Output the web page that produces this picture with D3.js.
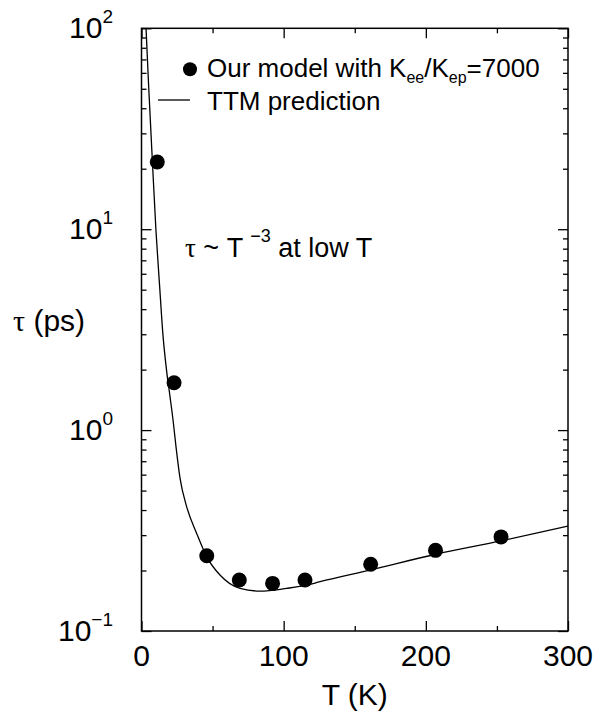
<!DOCTYPE html>
<html>
<head>
<meta charset="utf-8">
<script src="https://cdn.jsdelivr.net/npm/d3@7"></script>
<style>
  body { margin: 0; background: #fff; }
  text { font-family: "Liberation Sans", Arial, Helvetica, sans-serif; fill: #000; }
</style>
</head>
<body>
<div class="chart"></div>
<script>
// tau vs T, model points and TTM curve
var model_T = [11.1, 22.9, 45.9, 68.8, 92.2, 115, 161.2, 206.8, 252.9];
var model_tau = [21.6, 1.72, 0.237, 0.1795, 0.1726, 0.1795, 0.215, 0.252, 0.294];

var ttm_T = [3.2, 4.9, 7.7, 10.2, 12.7, 15.1, 17.6, 20.1, 22.2, 24.3, 27.1, 31.8, 38.8, 45.9, 55.2, 69.3, 83.4, 102.1, 116.2, 125.6, 160.7, 206.9, 252.9, 300];
var ttm_tau = [100, 53.9, 21.5, 9.77, 5.27, 2.97, 1.99, 1.46, 1.12, 0.823, 0.577, 0.415, 0.306, 0.234, 0.190, 0.163, 0.158, 0.163, 0.169, 0.176, 0.201, 0.241, 0.281, 0.333];

var x_ticks = [0, 100, 200, 300];
var x_minor = [50, 150, 250];
var y_ticks = [0.1, 1, 10, 100];
var y_exp = ["\u22121", "0", "1", "2"];

var legend_labels = ["Our model with K", "TTM prediction"];

var pl = 141.5, pr = 568, pt = 28.3, pb = 631;

var svg = d3.select(".chart")
            .append("svg")
            .attr("width", 605)
            .attr("height", 712);

var x = d3.scaleLinear().domain([0, 300]).range([pl, pr]);
var y = d3.scaleLog().domain([0.1, 100]).range([pb, pt]);

var y_minor = [];
for (var d = 0.1; d < 100; d *= 10) {
    for (var k = 2; k < 10; k++) y_minor.push(+(d * k).toPrecision(2));
}

// clip for the curve
svg.append("clipPath").attr("id", "plot")
    .append("rect")
    .attr("x", pl).attr("y", pt)
    .attr("width", pr - pl).attr("height", pb - pt);

// axes, ticks pointing inward
function tickAxis(axis, pos, size, vals) {
    var g = svg.append("g")
        .attr("transform", pos)
        .call(axis.tickValues(vals).tickSize(size).tickFormat(""));
    g.select(".domain").remove();
    g.selectAll("line").attr("stroke", "#000").attr("stroke-width", 1.3);
}
tickAxis(d3.axisBottom(x), "translate(0," + pb + ")", -10, x_ticks);
tickAxis(d3.axisBottom(x), "translate(0," + pb + ")", -5, x_minor);
tickAxis(d3.axisTop(x), "translate(0," + pt + ")", -10, x_ticks);
tickAxis(d3.axisTop(x), "translate(0," + pt + ")", -5, x_minor);
tickAxis(d3.axisLeft(y), "translate(" + pl + ",0)", -10, y_ticks);
tickAxis(d3.axisLeft(y), "translate(" + pl + ",0)", -5, y_minor);
tickAxis(d3.axisRight(y), "translate(" + pr + ",0)", -10, y_ticks);
tickAxis(d3.axisRight(y), "translate(" + pr + ",0)", -5, y_minor);

svg.append("rect")
    .attr("x", pl).attr("y", pt)
    .attr("width", pr - pl).attr("height", pb - pt)
    .attr("fill", "none")
    .attr("stroke", "#000")
    .attr("stroke-width", 1.5);

// x tick labels
svg.selectAll(".xl").data(x_ticks).enter()
    .append("text")
    .attr("x", function(d) { return x(d); })
    .attr("y", pb + 35)
    .attr("text-anchor", "middle")
    .style("font-size", "30px")
    .text(function(d) { return d; });

// y tick labels 10^n
var yl = svg.selectAll(".yl").data(y_ticks).enter()
    .append("text")
    .attr("x", 113)
    .attr("y", function(d) { return y(d) + 10; })
    .attr("text-anchor", "end")
    .style("font-size", "30px");
yl.append("tspan").text("10");
yl.append("tspan")
    .attr("dy", -15)
    .style("font-size", "19px")
    .text(function(d, i) { return y_exp[i]; });

// axis titles
svg.append("text")
    .attr("x", (pl + pr) / 2)
    .attr("y", 705)
    .attr("text-anchor", "middle")
    .style("font-size", "30px")
    .text("T (K)");

var yt = svg.append("text")
    .attr("x", 13)
    .attr("y", 331)
    .style("font-size", "30px");
yt.append("tspan").style("font-family", "'Liberation Serif', serif").text("\u03c4");
yt.append("tspan").text(" (ps)");

// TTM curve
var line = d3.line()
    .x(function(d, i) { return x(ttm_T[i]); })
    .y(function(d, i) { return y(ttm_tau[i]); })
    .curve(d3.curveMonotoneX);

svg.append("path")
    .datum(ttm_T)
    .attr("clip-path", "url(#plot)")
    .attr("d", line)
    .attr("fill", "none")
    .attr("stroke", "#000")
    .attr("stroke-width", 1.3);

// model points
svg.selectAll(".pt").data(model_T).enter()
    .append("circle")
    .attr("cx", function(d) { return x(d); })
    .attr("cy", function(d, i) { return y(model_tau[i]); })
    .attr("r", 7.5)
    .attr("fill", "#000");

// legend
svg.append("circle")
    .attr("cx", 190).attr("cy", 69.3).attr("r", 7)
    .attr("fill", "#000");
var lt = svg.append("text")
    .attr("x", 207)
    .attr("y", 77)
    .style("font-size", "26px");
lt.append("tspan").text(legend_labels[0]);
lt.append("tspan").attr("dy", 6).style("font-size", "16px").text("ee");
lt.append("tspan").attr("dy", -6).text("/K");
lt.append("tspan").attr("dy", 6).style("font-size", "16px").text("ep");
lt.append("tspan").attr("dy", -6).text("=7000");

svg.append("line")
    .attr("x1", 158).attr("x2", 190)
    .attr("y1", 100).attr("y2", 100)
    .attr("stroke", "#000")
    .attr("stroke-width", 1.3);
svg.append("text")
    .attr("x", 207)
    .attr("y", 110)
    .style("font-size", "26px")
    .text(legend_labels[1]);

// annotation
var an = svg.append("text")
    .attr("x", 185)
    .attr("y", 257)
    .style("font-size", "27px");
an.append("tspan").style("font-family", "'Liberation Serif', serif").text("\u03c4");
an.append("tspan").text(" ~ T ");
an.append("tspan").attr("dy", -15).style("font-size", "18px").text("\u22123");
an.append("tspan").attr("dy", 15).text(" at low T");
</script>
</body>
</html>
